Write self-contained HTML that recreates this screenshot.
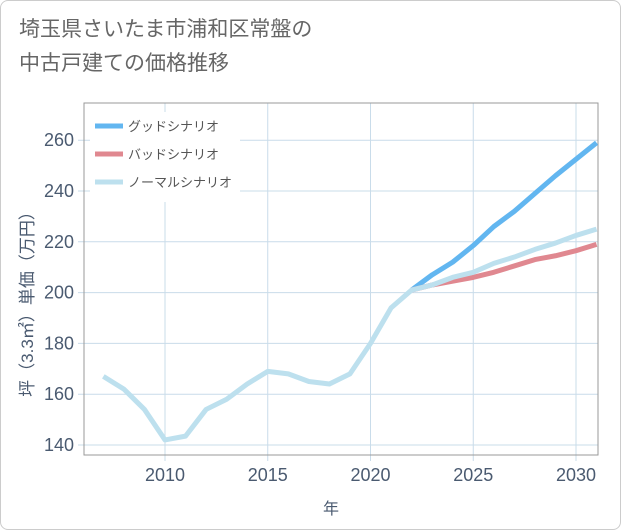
<!DOCTYPE html>
<html><head><meta charset="utf-8"><style>
body{margin:0;background:#fff;font-family:"Liberation Sans","Noto Sans CJK JP",sans-serif;}
#wrap{position:relative;width:619px;height:528px;border:1px solid #ccc;border-radius:8px;overflow:hidden;}
#title{position:absolute;left:18px;top:12px;font-size:21px;line-height:34px;color:#666;}
</style></head><body>
<div id="wrap">
<div id="title">埼玉県さいたま市浦和区常盤の<br>中古戸建ての価格推移</div>
<svg id="chart" width="621" height="530" style="position:absolute;left:-1px;top:-1px"></svg>
</div>
<script>
const years=[2007,2008,2009,2010,2011,2012,2013,2014,2015,2016,2017,2018,2019,2020,2021,2022,2023,2024,2025,2026,2027,2028,2029,2030,2031];
const normalVals=[167,162,154,142,143.5,154,158,164,169,168,165,164,168,180,194,201,203,206,208,211.5,214,217,219.5,222.5,225];
const scenYears=[2022,2023,2024,2025,2026,2027,2028,2029,2030,2031];
const goodVals=[201,207,212,218.5,226,232,239,246,252.5,259];
const badVals=[201,203,204.5,206,208,210.5,213,214.5,216.5,219];
const xTicks=[2010,2015,2020,2025,2030];
const yTicks=[140,160,180,200,220,240,260];
const legendLabels=["グッドシナリオ","バッドシナリオ","ノーマルシナリオ"];
const colors=["#62b6f0","#e08890","#bde0ee"];
const L=84,R=598,T=103,B=455;
const x=v=>165+(v-2010)*20.55;
const y=v=>445-(v-140)*2.54;
const svg=document.getElementById('chart');
const NS='http://www.w3.org/2000/svg';
function mk(t,a){const e=document.createElementNS(NS,t);for(const k in a)e.setAttribute(k,a[k]);svg.appendChild(e);return e;}
xTicks.forEach(t=>{const g=mk('line',{x1:x(t),x2:x(t),y1:T,y2:B+6,stroke:'#c9dcea','stroke-width':1});

const tx=mk('text',{x:x(t),y:481,'text-anchor':'middle','font-size':18,fill:'#4a5a70'});tx.textContent=t;
});
yTicks.forEach(t=>{const g=mk('line',{x1:L-6,x2:R,y1:y(t),y2:y(t),stroke:'#c9dcea','stroke-width':1});

const tx=mk('text',{x:L-10,y:y(t)+6,'text-anchor':'end','font-size':18,fill:'#4a5a70'});tx.textContent=t;
});
const fr=mk('rect',{x:L,y:T,width:R-L,height:B-T,fill:'none',stroke:'#999','stroke-width':1});

function line(xs,vs,c,n){const p=mk('polyline',{points:xs.map((yr,i)=>x(yr)+','+y(vs[i])).join(' '),fill:'none',stroke:c,'stroke-width':5,'stroke-linejoin':'round'});
}
line(scenYears,goodVals,colors[0],'good-scenario-line');
line(scenYears,badVals,colors[1],'bad-scenario-line');
line(years,normalVals,colors[2],'normal-scenario-line');
const lb=mk('rect',{x:90,y:112,width:150,height:90,fill:'#fff'});

legendLabels.forEach((s,i)=>{const yy=126+i*28;
const l=mk('line',{x1:95,x2:123,y1:yy,y2:yy,stroke:colors[i],'stroke-width':5});

const t=mk('text',{x:128,y:yy+5,'font-size':13,fill:'#555'});t.textContent=s;
});
const xt=mk('text',{x:331,y:514,'text-anchor':'middle','font-size':16,fill:'#4a5a70'});xt.textContent='年';

const yt=mk('text',{x:0,y:0,'text-anchor':'middle','font-size':17,fill:'#4a5a70',transform:'translate(33,300) rotate(-90)'});yt.textContent='坪（3.3㎡）単価（万円）';

</script>
</body></html>
